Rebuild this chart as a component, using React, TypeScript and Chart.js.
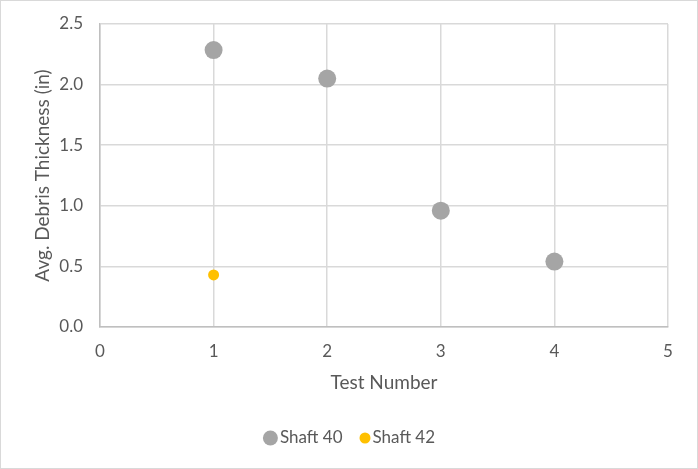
import React, { useEffect, useRef } from "react";
import { Chart, registerables } from "chart.js";

Chart.register(...registerables);

const shaft40X = [1, 2, 3, 4];
const shaft40Y = [2.285, 2.05, 0.96, 0.54];
const shaft42X = [1];
const shaft42Y = [0.43];
const seriesNames = ["Shaft 40", "Shaft 42"];
const seriesColors = ["#A5A5A5", "#FFC000"];
const xTitle = "Test Number";
const yTitle = "Avg. Debris Thickness (in)";

const FONT = "Lato, 'Open Sans', sans-serif";
const TEXT = "#595959";

const legendPlugin = {
  id: "customLegend",
  afterDraw(chart: any) {
    const ctx = chart.ctx;
    ctx.save();
    ctx.font = `17px ${FONT}`;
    ctx.textBaseline = "middle";
    ctx.fillStyle = TEXT;
    const radii = [7.5, 5.5];
    const items = seriesNames.map((n, i) => ({
      name: n,
      r: radii[i],
      color: seriesColors[i],
      w: radii[i] * 2 + 2 + ctx.measureText(n).width,
    }));
    const gap = 17;
    const total = items.reduce((s, it) => s + it.w, 0) + gap * (items.length - 1);
    let x = chart.width / 2 - total / 2;
    const y = 438;
    for (const it of items) {
      ctx.beginPath();
      ctx.fillStyle = it.color;
      ctx.arc(x + it.r, y, it.r, 0, Math.PI * 2);
      ctx.fill();
      ctx.fillStyle = TEXT;
      ctx.textAlign = "left";
      ctx.fillText(it.name, x + it.r * 2 + 2, y);
      x += it.w + gap;
    }
    ctx.restore();
  },
};

const borderPlugin = {
  id: "outerBorder",
  beforeDraw(chart: any) {
    const ctx = chart.ctx;
    ctx.save();
    ctx.fillStyle = "#FFFFFF";
    ctx.fillRect(0, 0, chart.width, chart.height);
    ctx.strokeStyle = "#D9D9D9";
    ctx.lineWidth = 1;
    ctx.strokeRect(0.5, 0.5, chart.width - 1, chart.height - 1);
    ctx.restore();
  },
};

export default function App() {
  const ref = useRef<HTMLCanvasElement>(null);
  useEffect(() => {
    document.body.style.margin = "0";
    const chart = new Chart(ref.current as HTMLCanvasElement, {
      type: "scatter",
      data: {
        datasets: [
          {
            label: seriesNames[0],
            data: shaft40X.map((x, i) => ({ x, y: shaft40Y[i] })),
            backgroundColor: seriesColors[0],
            borderWidth: 0,
            pointRadius: 9,
            pointHoverRadius: 9,
          },
          {
            label: seriesNames[1],
            data: shaft42X.map((x, i) => ({ x, y: shaft42Y[i] })),
            backgroundColor: seriesColors[1],
            borderWidth: 0,
            pointRadius: 5.5,
            pointHoverRadius: 5.5,
          },
        ],
      },
      options: {
        responsive: false,
        animation: false,
        layout: { padding: { left: 0, top: 24, right: 30, bottom: 0 } },
        plugins: { legend: { display: false }, tooltip: { enabled: false } },
        scales: {
          x: {
            type: "linear",
            min: 0,
            max: 5,
            ticks: { stepSize: 1, color: TEXT, font: { family: FONT, size: 17 }, padding: 14 },
            grid: { color: "#D9D9D9", lineWidth: 1.5, drawTicks: false },
            border: { color: "#BFBFBF", width: 1.5 },
            title: {
              display: true,
              text: xTitle,
              color: TEXT,
              font: { family: FONT, size: 19 },
              padding: { top: 0, bottom: 75 },
            },
            afterFit(scale: any) {
              scale.height = 142;
              scale.paddingLeft = 0;
              scale.paddingRight = 0;
            },
          },
          y: {
            type: "linear",
            min: 0,
            max: 2.5,
            ticks: {
              stepSize: 0.5,
              color: TEXT,
              font: { family: FONT, size: 17 },
              padding: 17,
              callback: (v: any) => Number(v).toFixed(1),
            },
            grid: { color: "#D9D9D9", lineWidth: 1.5, drawTicks: false },
            border: { color: "#BFBFBF", width: 1.5 },
            title: {
              display: true,
              text: yTitle,
              color: TEXT,
              font: { family: FONT, size: 19 },
              padding: { top: 31, bottom: 0 },
            },
            afterFit(scale: any) {
              scale.width = 100;
              scale.paddingTop = 0;
              scale.paddingBottom = 0;
            },
          },
        },
      },
      plugins: [borderPlugin, legendPlugin],
    } as any);
    return () => chart.destroy();
  }, []);
  return (
    <div style={{ position: "fixed", left: 0, top: 0, width: 698, height: 469 }}>
      <canvas ref={ref} width={698} height={469} />
    </div>
  );
}
